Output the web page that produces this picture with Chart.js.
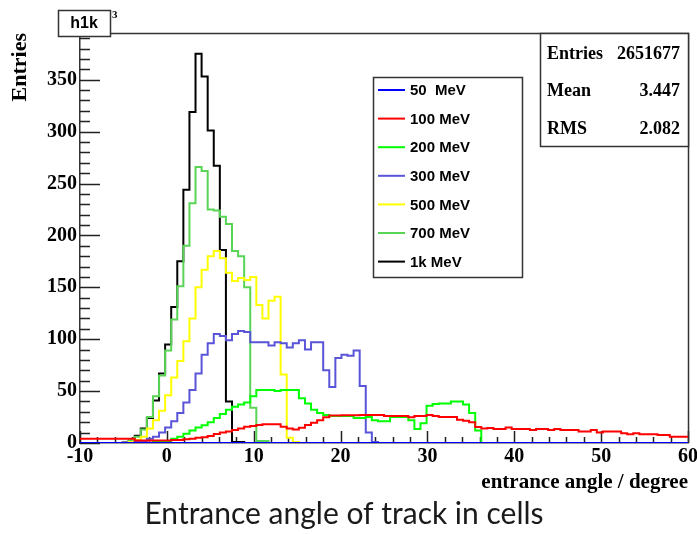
<!DOCTYPE html>
<html>
<head>
<meta charset="utf-8">
<title>Entrance angle of track in cells</title>
<script src="https://cdn.jsdelivr.net/npm/chart.js"></script>
<style>
  body { margin: 0; background: #fff; }
  canvas { display: block; }
</style>
</head>
<body>
<canvas id="angleChart" width="697" height="534"></canvas>
<script>
// binning of the histograms: 100 bins from -10 to 60 degree
const BIN_LOW = -10;
const BIN_WIDTH = 0.7;

const X_TICKS = [-10, 0, 10, 20, 30, 40, 50, 60];
const Y_TICKS = [0, 50, 100, 150, 200, 250, 300, 350];
const Y_MAX = 395;

const ENERGIES = ['50  MeV', '100 MeV', '200 MeV', '300 MeV', '500 MeV', '700 MeV', '1k MeV'];
const COLORS = ['#0000ff', '#ff0000', '#00ff00', '#5954d8', '#ffff00', '#59d454', '#000000'];

// bin contents, one array per beam energy
const H_50 = [
  0, 0, 0, 0, 0, 0, 0, 0, 0, 0,
  0, 0, 0, 0, 0, 0, 0, 0, 0, 0,
  0, 0, 0, 0, 0, 0, 0, 0, 0, 0,
  0, 0, 0, 0, 0, 0, 0, 0, 0, 0,
  0, 0, 0, 0, 0, 0, 0, 0, 0, 0,
  0, 0, 0, 0, 0, 0, 0, 0, 0, 0,
  0, 0, 0, 0, 0, 0, 0, 0, 0, 0,
  0, 0, 0, 0, 0, 0, 0, 0, 0, 0,
  0, 0, 0, 0, 0, 0, 0, 0, 0, 0,
  0, 0, 0, 0, 0, 0, 0, 0, 0, 0
];
const H_100 = [
  4, 4, 4, 4, 4, 4, 4, 4, 4, 2.5,
  2.5, 2.5, 2.5, 2.5, 2.5, 3, 3, 3.5, 4, 5,
  5.5, 6.7, 8.7, 10, 11, 12.5, 14, 15.7, 16.4, 17.4,
  18, 18, 18, 15.7, 14, 13, 14.8, 17.4, 19.6, 22,
  24.7, 26.4, 26.4, 26.7, 26.7, 26.7, 27, 27, 27, 27,
  26, 26, 26, 26, 24.7, 26, 26, 27, 26, 25,
  25, 25, 22.5, 21.5, 20, 15.5, 14, 14.5, 13.5, 13.5,
  15, 13.5, 13.5, 13.5, 12.5, 13.5, 13.5, 12.5, 13.5, 12.5,
  12.5, 12.5, 11, 11, 12.5, 10, 11, 11, 11, 9.3,
  8.4, 9.3, 8.4, 8.4, 8.4, 7.7, 7.7, 6.1, 6.1, 6.1
];
const H_200 = [
  0, 0, 0, 0, 0, 0, 0, 0, 0, 0,
  0, 0, 1, 1, 2, 4, 6, 9, 12, 15,
  17, 20, 24, 28, 32, 35, 37, 39, 45, 51,
  51, 51, 50, 51, 51, 51, 43, 38, 32, 29,
  27, 26, 26, 26, 26, 24, 24, 25, 22, 21,
  21, 25, 25, 25, 22, 13.5, 19, 36, 37.6, 38,
  38, 40, 40, 37, 29, 12, 0, 0, 0, 0,
  0, 0, 0, 0, 0, 0, 0, 0, 0, 0,
  0, 0, 0, 0, 0, 0, 0, 0, 0, 0,
  0, 0, 0, 0, 0, 0, 0, 0, 0, 0
];
const H_300 = [
  0, 0, 0, 0, 0, 0, 0, 0, 0, 1,
  2, 4, 6, 10, 15, 21, 29, 39, 51, 67,
  85, 96, 105, 103, 99, 105, 108, 107, 97, 97,
  97, 94, 97, 96, 92, 96, 99, 90, 97, 97,
  70, 54, 82, 85, 84, 89, 55, 10, 1, 0,
  0, 0, 0, 0, 0, 0, 0, 0, 0, 0,
  0, 0, 0, 0, 0, 0, 0, 0, 0, 0,
  0, 0, 0, 0, 0, 0, 0, 0, 0, 0,
  0, 0, 0, 0, 0, 0, 0, 0, 0, 0,
  0, 0, 0, 0, 0, 0, 0, 0, 0, 0
];
const H_500 = [
  0, 0, 0, 0, 0, 0, 0, 0, 1, 3,
  6, 14, 22, 31, 46, 63, 79, 98, 120, 150,
  167, 180, 185, 178, 164, 156, 159, 157, 160, 133,
  120, 137, 141, 66, 5, 1, 0, 0, 0, 0,
  0, 0, 0, 0, 0, 0, 0, 0, 0, 0,
  0, 0, 0, 0, 0, 0, 0, 0, 0, 0,
  0, 0, 0, 0, 0, 0, 0, 0, 0, 0,
  0, 0, 0, 0, 0, 0, 0, 0, 0, 0,
  0, 0, 0, 0, 0, 0, 0, 0, 0, 0,
  0, 0, 0, 0, 0, 0, 0, 0, 0, 0
];
const H_700 = [
  0, 0, 0, 0, 0, 0, 0, 0, 3, 6,
  13, 25, 45, 65, 89, 119, 151, 190, 231, 266,
  262, 225, 224, 218, 211, 185, 180, 150, 34, 2,
  2, 0, 0, 0, 0, 0, 0, 0, 0, 0,
  0, 0, 0, 0, 0, 0, 0, 0, 0, 0,
  0, 0, 0, 0, 0, 0, 0, 0, 0, 0,
  0, 0, 0, 0, 0, 0, 0, 0, 0, 0,
  0, 0, 0, 0, 0, 0, 0, 0, 0, 0,
  0, 0, 0, 0, 0, 0, 0, 0, 0, 0,
  0, 0, 0, 0, 0, 0, 0, 0, 0, 0
];
const H_1K = [
  0, 0, 0, 0, 0, 0, 0, 0.5, 2, 7,
  14, 24, 41, 67, 95, 131, 175, 244, 319, 375,
  353, 301, 267, 186, 40, 1, 1, 0, 0, 0,
  0, 0, 0, 0, 0, 0, 0, 0, 0, 0,
  0, 0, 0, 0, 0, 0, 0, 0, 0, 0,
  0, 0, 0, 0, 0, 0, 0, 0, 0, 0,
  0, 0, 0, 0, 0, 0, 0, 0, 0, 0,
  0, 0, 0, 0, 0, 0, 0, 0, 0, 0,
  0, 0, 0, 0, 0, 0, 0, 0, 0, 0,
  0, 0, 0, 0, 0, 0, 0, 0, 0, 0
];
const HISTS = [H_50, H_100, H_200, H_300, H_500, H_700, H_1K];

const STAT_NAMES = ['Entries', 'Mean', 'RMS'];
const STAT_VALUES = ['2651677', '3.447', '2.082'];

// bin contents -> step points at the bin edges (last edge repeats the last bin)
function toSteps(counts) {
  const pts = counts.map((c, i) => ({ x: BIN_LOW + i * BIN_WIDTH, y: c }));
  pts.push({ x: BIN_LOW + counts.length * BIN_WIDTH, y: counts[counts.length - 1] });
  return pts;
}

// inner tick marks and the top/right edges of the frame
const frameTicks = {
  id: 'frameTicks',
  beforeDatasetsDraw(chart) {
    const { ctx, chartArea: a, scales: { x, y } } = chart;
    ctx.save();
    ctx.strokeStyle = '#222';
    ctx.lineWidth = 1.5;
    ctx.beginPath();
    for (let v = X_TICKS[0]; v <= X_TICKS[X_TICKS.length - 1] + 1e-6; v += 2) {
      const px = Math.round(x.getPixelForValue(v)) + 0.5;
      const major = X_TICKS.some(t => Math.abs(t - v) < 1e-6);
      ctx.moveTo(px, a.bottom);
      ctx.lineTo(px, a.bottom - (major ? 12 : 6));
    }
    for (let v = 0; v <= Y_MAX; v += 10) {
      const py = Math.round(y.getPixelForValue(v)) + 0.5;
      const major = Y_TICKS.includes(v);
      ctx.moveTo(a.left, py);
      ctx.lineTo(a.left + (major ? 20 : 10), py);
    }
    ctx.stroke();
    ctx.strokeStyle = '#333';
    ctx.beginPath();
    ctx.moveTo(a.left, a.top + 0.5);
    ctx.lineTo(a.right + 0.5, a.top + 0.5);
    ctx.lineTo(a.right + 0.5, a.bottom);
    ctx.stroke();
    ctx.restore();
  }
};

// title box, legend and statistics box
const rootBoxes = {
  id: 'rootBoxes',
  afterDraw(chart) {
    const { ctx } = chart;
    ctx.save();
    ctx.lineWidth = 1.5;
    ctx.strokeStyle = '#333';

    // histogram name
    ctx.fillStyle = '#fff';
    ctx.fillRect(58, 10, 52, 26);
    ctx.strokeRect(58.5, 10.5, 52, 26);
    ctx.fillStyle = '#000';
    ctx.font = 'bold 16px "Liberation Sans", Arial, sans-serif';
    ctx.textAlign = 'center';
    ctx.textBaseline = 'middle';
    ctx.fillText('h1k', 84, 24);
    ctx.font = 'bold 11px "Liberation Serif", serif';
    ctx.textAlign = 'left';
    ctx.fillText('3', 112, 15);

    // legend
    ctx.fillStyle = '#fff';
    ctx.fillRect(373, 77, 149, 200);
    ctx.strokeRect(373.5, 77.5, 149, 200);
    ctx.font = 'bold 15px "Liberation Sans", Arial, sans-serif';
    ENERGIES.forEach((name, i) => {
      const yy = 90 + i * 28.6;
      ctx.strokeStyle = COLORS[i];
      ctx.lineWidth = 2;
      ctx.beginPath();
      ctx.moveTo(378, yy);
      ctx.lineTo(405, yy);
      ctx.stroke();
      ctx.fillStyle = '#000';
      ctx.fillText(name, 410, yy + 1);
    });

    // statistics
    ctx.lineWidth = 1.5;
    ctx.strokeStyle = '#333';
    ctx.fillStyle = '#fff';
    ctx.fillRect(540, 33, 148, 113);
    ctx.strokeRect(540.5, 33.5, 148, 113);
    ctx.fillStyle = '#000';
    ctx.font = 'bold 18px "Liberation Serif", "Times New Roman", serif';
    STAT_NAMES.forEach((name, i) => {
      const yy = 54 + i * 37.5;
      ctx.textAlign = 'left';
      ctx.fillText(name, 547, yy);
      ctx.textAlign = 'right';
      ctx.fillText(STAT_VALUES[i], 680, yy);
    });
    ctx.restore();
  }
};

new Chart(document.getElementById('angleChart'), {
  type: 'line',
  data: {
    datasets: HISTS.map((h, i) => ({
      label: ENERGIES[i],
      data: toSteps(h),
      borderColor: COLORS[i],
      borderWidth: 2,
      stepped: true,
      pointRadius: 0,
      fill: false
    }))
  },
  options: {
    responsive: false,
    animation: false,
    layout: { padding: { left: 0, top: 33, right: 9, bottom: 0 } },
    plugins: {
      legend: { display: false },
      tooltip: { enabled: false },
      title: {
        display: true,
        position: 'bottom',
        text: 'Entrance angle of track in cells',
        color: '#1a1a1a',
        font: { family: 'Lato, "Noto Sans", sans-serif', size: 30, weight: 'normal', lineHeight: 1.2 },
        padding: { top: 3, bottom: 2 }
      }
    },
    scales: {
      x: {
        type: 'linear',
        min: BIN_LOW,
        max: 60,
        afterBuildTicks: s => { s.ticks = X_TICKS.map(v => ({ value: v })); },
        afterFit: s => { s.height = 50; s.paddingLeft = 0; s.paddingRight = 0; },
        grid: { drawOnChartArea: false, drawTicks: false },
        border: { display: true, color: '#333', width: 1.5 },
        ticks: { color: '#000', font: { family: '"Liberation Serif", serif', size: 20, weight: 'bold' }, padding: 2, maxRotation: 0 },
        title: {
          display: true,
          text: 'entrance angle / degree',
          align: 'end',
          color: '#000',
          font: { family: '"Liberation Serif", serif', size: 21, weight: 'bold', lineHeight: 1 },
          padding: { top: 0, bottom: 0 }
        }
      },
      y: {
        min: 0,
        max: Y_MAX,
        afterBuildTicks: s => { s.ticks = Y_TICKS.map(v => ({ value: v })); },
        afterFit: s => { s.width = 80; },
        grid: { drawOnChartArea: false, drawTicks: false },
        border: { display: true, color: '#333', width: 1.5 },
        ticks: { color: '#000', font: { family: '"Liberation Serif", serif', size: 20, weight: 'bold' }, padding: 3 },
        title: {
          display: true,
          text: 'Entries',
          align: 'end',
          color: '#000',
          font: { family: '"Liberation Serif", serif', size: 22, weight: 'bold', lineHeight: 1.2 },
          padding: { top: 7, bottom: 0 }
        }
      }
    }
  },
  plugins: [frameTicks, rootBoxes]
});
</script>
</body>
</html>
